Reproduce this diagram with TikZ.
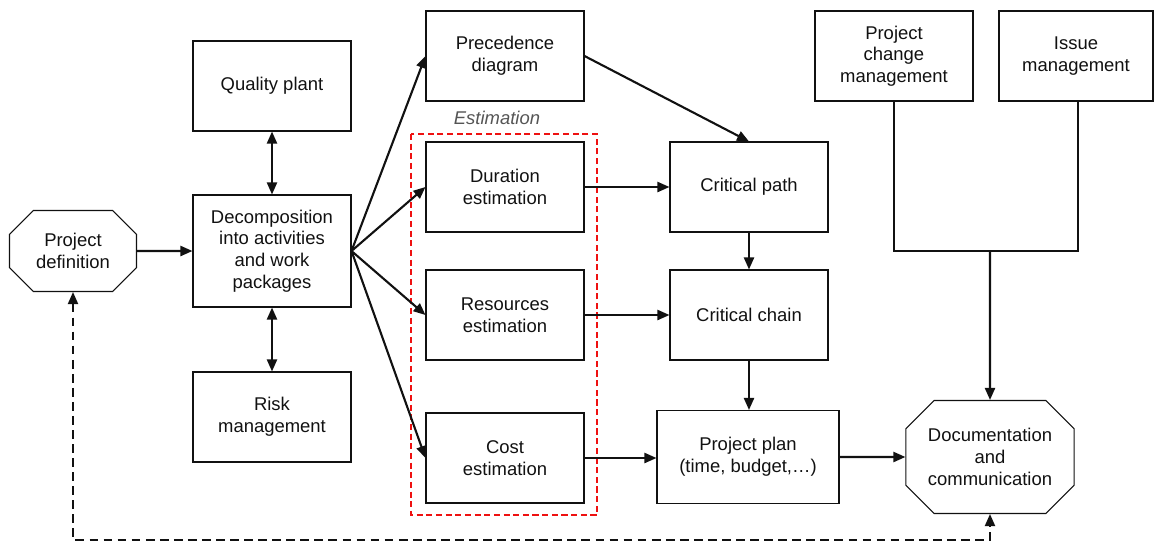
\documentclass[tikz,border=0pt]{standalone}
\usepackage{xcolor}
\usepackage{fontspec}
\setmainfont{Liberation Sans}
\usepackage{tikz}
\usetikzlibrary{shapes.misc, arrows.meta, positioning}
\definecolor{ink}{HTML}{111111}
\definecolor{estred}{HTML}{EE1111}
\definecolor{labelgrey}{HTML}{555555}
\tikzstyle{task} = [rectangle, draw=ink, line width=0.6pt, text=ink, minimum width=3.16cm, minimum height=1.8cm, align=center, font=\fontsize{10.5}{12.3}\selectfont, inner sep=2pt]
\tikzstyle{terminal} = [chamfered rectangle, chamfered rectangle xsep=0.44cm, draw=ink, line width=0.6pt, text=ink, align=center, font=\fontsize{10.5}{12.3}\selectfont, inner sep=0pt]
\tikzstyle{flow} = [line width=1.2pt, -{Triangle[length=2.4mm, width=2mm]}, color=ink]
\tikzstyle{both} = [line width=1.2pt, {Triangle[length=2.4mm, width=2mm]}-{Triangle[length=2.4mm, width=2mm]}, color=ink]
\tikzstyle{link} = [line width=1.2pt, color=ink]
\tikzstyle{back} = [line width=1.1pt, dash pattern=on 5pt off 3pt, {Triangle[length=2.4mm, width=2mm]}-{Triangle[length=2.4mm, width=2mm]}, color=ink]

\begin{document}
\begin{tikzpicture}[x=0.02cm, y=-0.02cm]
\useasboundingbox (0,0) rectangle (1154,542);

\node (def) [terminal, minimum width=2.54cm, minimum height=1.62cm] at (73,251) {Project\\definition};
\node (decomp) [task, minimum height=2.24cm] at (272,251) {Decomposition\\into activities\\and work\\packages};
\node (quality) [task] at (272,86) {Quality plant};
\node (risk) [task] at (272,417) {Risk\\management};

\node (prec) [task] at (505,56) {Precedence\\diagram};
\node (dur) [task] at (505,187) {Duration\\estimation};
\node (res) [task] at (505,315) {Resources\\estimation};
\node (cost) [task] at (505,458) {Cost\\estimation};
\draw[estred, line width=1.2pt, dash pattern=on 3.5pt off 2pt] (411,134) rectangle (597,515);
\node (est) [font=\itshape\fontsize{10.5}{12}\selectfont, text=labelgrey] at (497,118) {Estimation};

\node (path) [task] at (749,187) {Critical path};
\node (chain) [task] at (749,315) {Critical chain};
\node (plan) [task, minimum width=3.64cm, minimum height=1.86cm] at (748,457) {Project plan\\(time, budget,\dots)};

\node (change) [task] at (894,56) {Project\\change\\management};
\node (issue) [task, minimum width=3.08cm] at (1076,56) {Issue\\management};
\node (doc) [terminal, minimum width=3.34cm, minimum height=2.26cm] at (990,457) {Documentation\\and\\communication};

\draw[flow] (def) -- (decomp);
\draw[both] (quality) -- (decomp);
\draw[both] (risk) -- (decomp);
\draw[flow] (decomp.east) -- (prec.west);
\draw[flow] (decomp.east) -- (dur.west);
\draw[flow] (decomp.east) -- (res.west);
\draw[flow] (decomp.east) -- (cost.west);

\draw[flow] (prec.east) -- (path.north);
\draw[flow] (dur) -- (path);
\draw[flow] (res) -- (chain);
\draw[flow] (cost.east) -- (cost.east -| plan.west);
\draw[flow] (path) -- (chain);
\draw[flow] (chain.south) -- (chain.south |- plan.north);
\draw[flow] (plan) -- (doc);

\coordinate (join) at (990,251);
\draw[link] (change) |- (join);
\draw[link] (issue.south -| 1078,0) |- (join);
\draw[flow] (join) -- (doc);

\coordinate (low) at (500,540);
\draw[back] (def.south) |- (low) -| (doc.south);
\end{tikzpicture}
\end{document}
